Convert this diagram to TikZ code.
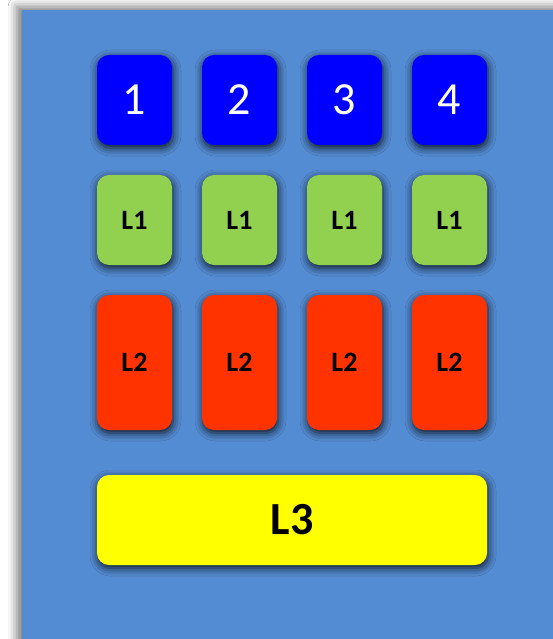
\documentclass[tikz,border=0pt]{standalone}
\usepackage{fontspec}
\setmainfont{Carlito}
\usetikzlibrary{shadows.blur}
\definecolor{panelblue}{RGB}{84,140,211}
\definecolor{boxblue}{RGB}{0,0,255}
\definecolor{boxgreen}{RGB}{146,208,80}
\definecolor{boxred}{RGB}{255,51,0}
\definecolor{boxyellow}{RGB}{255,255,0}
\begin{document}
\begin{tikzpicture}[x=1pt,y=-1pt,
every node/.style={rounded corners=12pt,inner sep=0pt,minimum width=75pt,
 blur shadow={shadow xshift=1pt,shadow yshift=-3pt,shadow blur radius=8pt,shadow opacity=85}},
numbox/.style={fill=boxblue,minimum height=90pt,text=white,font=\fontsize{46}{46}\selectfont},
lonebox/.style={fill=boxgreen,minimum height=90pt,font=\bfseries\fontsize{28}{28}\selectfont},
ltwobox/.style={fill=boxred,minimum height=135pt,font=\bfseries\fontsize{28}{28}\selectfont}]
\useasboundingbox (0,0) rectangle (553,639);
\fill[white] (0,0) rectangle (553,639);
\fill[panelblue,blur shadow={shadow xshift=-5pt,shadow yshift=3pt,shadow blur radius=9pt,shadow opacity=55}] (22,10) rectangle (580,660);
% top row
\node[numbox] (N1) at (134.5,100) {1};
\node[numbox] (N2) at (239.5,100) {2};
\node[numbox] (N3) at (344.5,100) {3};
\node[numbox] (N4) at (449.5,100) {4};
% L1 row
\node[lonebox] (A1) at (134.5,220) {L1};
\node[lonebox] (A2) at (239.5,220) {L1};
\node[lonebox] (A3) at (344.5,220) {L1};
\node[lonebox] (A4) at (449.5,220) {L1};
% L2 row
\node[ltwobox] (B1) at (134.5,362.5) {L2};
\node[ltwobox] (B2) at (239.5,362.5) {L2};
\node[ltwobox] (B3) at (344.5,362.5) {L2};
\node[ltwobox] (B4) at (449.5,362.5) {L2};
% L3
\node[fill=boxyellow,minimum width=390pt,minimum height=90pt,
 font=\bfseries\fontsize{46}{46}\selectfont] (C) at (292,520) {L3};
\end{tikzpicture}
\end{document}
